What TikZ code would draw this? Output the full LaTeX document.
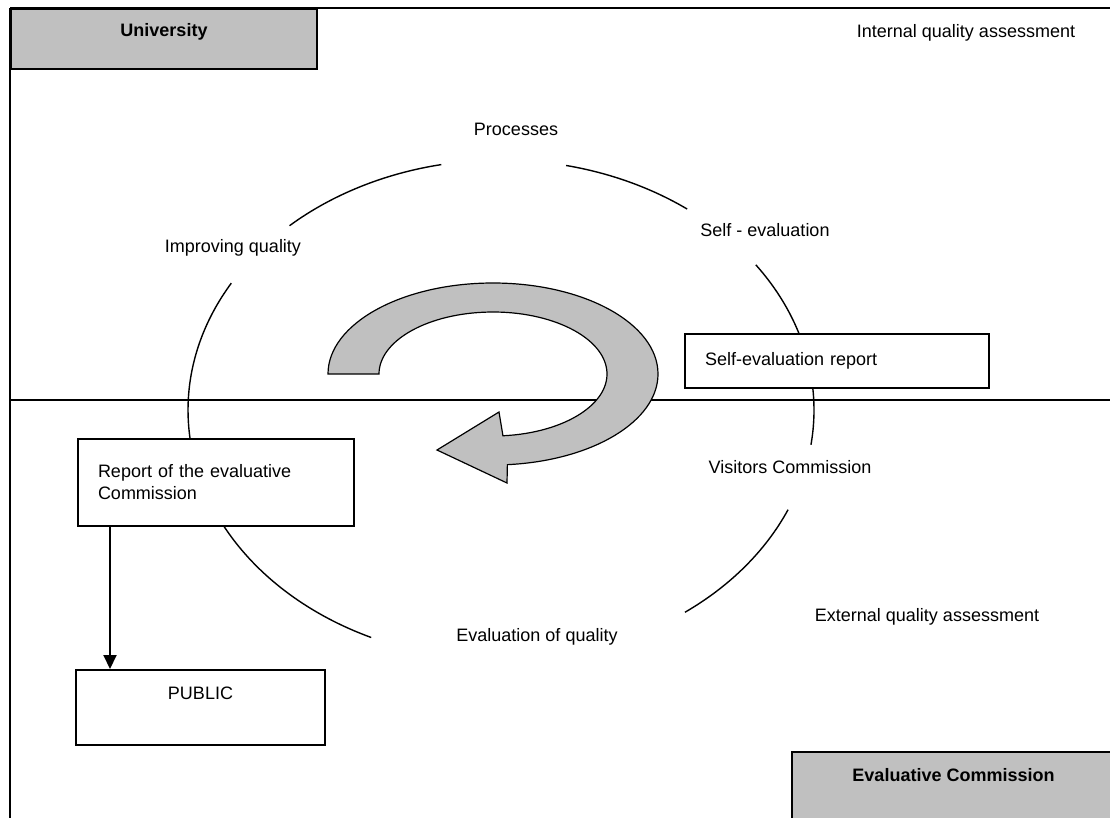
\documentclass[tikz,border=0pt]{standalone}
\usepackage{fontspec}
\setmainfont{Liberation Sans}
\usetikzlibrary{arrows.meta}
\definecolor{boxgrey}{HTML}{C0C0C0}

\begin{document}
\begin{tikzpicture}[%
  x=1pt, y=-1pt,
  every node/.style={font=\fontsize{18}{22}\selectfont, inner sep=0pt},
  frameline/.style={line width=2pt},
  cycleline/.style={line width=1.4pt},
  greybox/.style={draw, line width=2pt, fill=boxgrey},
  whitebox/.style={draw, line width=2pt, fill=white},
  boxtitle/.style={font=\fontsize{18}{22}\selectfont\bfseries}]
  \useasboundingbox (0,0) rectangle (1110,817);
  \draw[frameline] (10,8) -- (1110,8);
  \draw[frameline] (10,8) -- (10,830);
  \draw[line width=1.5pt] (10,400) -- (1110,400);
  % the quality cycle
  \coordinate (cyc) at (501,410);
  \foreach \from/\to in {-101/-132.5, -78/-53.5, -35.5/8, 23.5/54, -149.5/-245.5}
    \draw[cycleline] ([shift={(\from:313 and 250)}]cyc)
      arc[start angle=\from, end angle=\to, x radius=313, y radius=250];
  \node[greybox, minimum width=306pt, minimum height=60pt, anchor=north west] (univ) at (10,8) {};
  \node[boxtitle] (univtxt) at ([yshift=-24pt]univ.north) {University};
  \node[greybox, minimum width=323pt, minimum height=75pt, anchor=north west] (evalcom) at (791,751) {};
  \node[boxtitle] (evalcomtxt) at ([yshift=-24pt]evalcom.north) {Evaluative Commission};
  \node[whitebox, minimum width=304pt, minimum height=54pt, text width=264pt, inner xsep=20pt,
    align=left, anchor=north west] (selfrep) at (684,333) {Self-evaluation report};
  \node[whitebox, minimum width=276pt, minimum height=87pt, text width=236pt, inner xsep=20pt,
    align=left, anchor=north west] (evalrep) at (77,438) {Report of the evaluative\\Commission};
  \node[whitebox, minimum width=249pt, minimum height=75pt, anchor=north west] (public) at (75,669) {};
  \node (publictxt) at ([yshift=-24pt]public.north) {PUBLIC};
  % turning arrow
  \coordinate (loop) at (493,374);
  \draw[line width=1.2pt, fill=boxgrey]
    ([shift={(180:165 and 91)}]loop) arc[start angle=180, end angle=445, x radius=165, y radius=91]
    -- (507,483) -- (437,450) -- (499,412)
    -- ([shift={(445:114 and 62)}]loop) arc[start angle=445, end angle=180, x radius=114, y radius=62]
    -- cycle;
  \node (processes) at (516,129) {Processes};
  \node (improving) at (233,248) {Improving quality};
  \node (selfeval) at (765,230) {Self - evaluation};
  \node (visitors) at (790,467) {Visitors Commission};
  \node (evalq) at (537,637) {Evaluation of quality};
  \node (internal) at (966,33) {Internal quality assessment};
  \node (external) at (927,617) {External quality assessment};
  \draw[line width=2pt, -{Triangle[length=14pt, width=13pt]}]
    ([xshift=33pt]evalrep.south west) -- ([xshift=35pt]public.north west);
\end{tikzpicture}
\end{document}
